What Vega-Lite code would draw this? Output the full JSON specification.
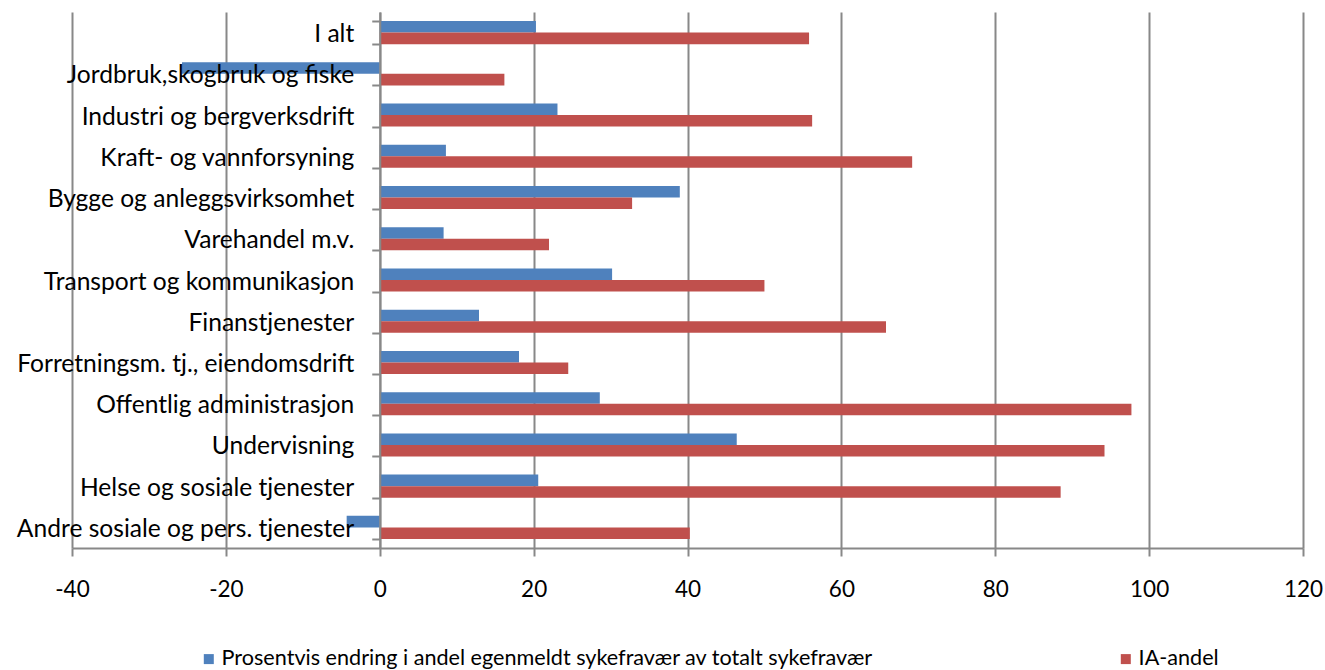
{
  "$schema": "https://vega.github.io/schema/vega-lite/v6.json",
  "width": 1231,
  "height": 536,
  "autosize": {"type": "none"},
  "padding": {"left": 72, "top": 12, "right": 22, "bottom": 122},
  "background": "white",
  "config": {"view": {"stroke": null}, "font": "Lato"},
  "data": {
    "values": [
      {"bransje": "I alt", "serie": "Prosentvis endring i andel egenmeldt sykefravær av totalt sykefravær", "verdi": 20.3},
      {"bransje": "I alt", "serie": "IA-andel", "verdi": 55.8},
      {"bransje": "Jordbruk,skogbruk og fiske", "serie": "Prosentvis endring i andel egenmeldt sykefravær av totalt sykefravær", "verdi": -25.7},
      {"bransje": "Jordbruk,skogbruk og fiske", "serie": "IA-andel", "verdi": 16.2},
      {"bransje": "Industri og bergverksdrift", "serie": "Prosentvis endring i andel egenmeldt sykefravær av totalt sykefravær", "verdi": 23.1},
      {"bransje": "Industri og bergverksdrift", "serie": "IA-andel", "verdi": 56.2},
      {"bransje": "Kraft- og vannforsyning", "serie": "Prosentvis endring i andel egenmeldt sykefravær av totalt sykefravær", "verdi": 8.6},
      {"bransje": "Kraft- og vannforsyning", "serie": "IA-andel", "verdi": 69.2},
      {"bransje": "Bygge og anleggsvirksomhet", "serie": "Prosentvis endring i andel egenmeldt sykefravær av totalt sykefravær", "verdi": 39.0},
      {"bransje": "Bygge og anleggsvirksomhet", "serie": "IA-andel", "verdi": 32.8},
      {"bransje": "Varehandel m.v.", "serie": "Prosentvis endring i andel egenmeldt sykefravær av totalt sykefravær", "verdi": 8.3},
      {"bransje": "Varehandel m.v.", "serie": "IA-andel", "verdi": 22.0},
      {"bransje": "Transport og kommunikasjon", "serie": "Prosentvis endring i andel egenmeldt sykefravær av totalt sykefravær", "verdi": 30.2},
      {"bransje": "Transport og kommunikasjon", "serie": "IA-andel", "verdi": 50.0},
      {"bransje": "Finanstjenester", "serie": "Prosentvis endring i andel egenmeldt sykefravær av totalt sykefravær", "verdi": 12.9},
      {"bransje": "Finanstjenester", "serie": "IA-andel", "verdi": 65.8},
      {"bransje": "Forretningsm. tj., eiendomsdrift", "serie": "Prosentvis endring i andel egenmeldt sykefravær av totalt sykefravær", "verdi": 18.1},
      {"bransje": "Forretningsm. tj., eiendomsdrift", "serie": "IA-andel", "verdi": 24.5},
      {"bransje": "Offentlig administrasjon", "serie": "Prosentvis endring i andel egenmeldt sykefravær av totalt sykefravær", "verdi": 28.6},
      {"bransje": "Offentlig administrasjon", "serie": "IA-andel", "verdi": 97.7},
      {"bransje": "Undervisning", "serie": "Prosentvis endring i andel egenmeldt sykefravær av totalt sykefravær", "verdi": 46.4},
      {"bransje": "Undervisning", "serie": "IA-andel", "verdi": 94.2},
      {"bransje": "Helse og sosiale tjenester", "serie": "Prosentvis endring i andel egenmeldt sykefravær av totalt sykefravær", "verdi": 20.6},
      {"bransje": "Helse og sosiale tjenester", "serie": "IA-andel", "verdi": 88.5},
      {"bransje": "Andre sosiale og pers. tjenester", "serie": "Prosentvis endring i andel egenmeldt sykefravær av totalt sykefravær", "verdi": -4.3},
      {"bransje": "Andre sosiale og pers. tjenester", "serie": "IA-andel", "verdi": 40.3}
    ]
  },
  "mark": {"type": "bar"},
  "encoding": {
    "y": {
      "field": "bransje",
      "type": "nominal",
      "sort": null,
      "scale": {"paddingInner": 0.44, "paddingOuter": 0.22},
      "axis": {
        "title": null,
        "offset": -307.75,
        "domainColor": "#888888",
        "domainWidth": 2,
        "tickColor": "#888888",
        "tickWidth": 2,
        "tickSize": 8,
        "tickBand": "extent",
        "labelFontSize": 24.6,
        "labelColor": "black",
        "labelPadding": 18,
        "labelOffset": 2,
        "labelLimit": 500,
        "labelOverlap": false,
        "zindex": 1,
        "grid": false
      }
    },
    "yOffset": {
      "field": "serie",
      "type": "nominal",
      "sort": ["Prosentvis endring i andel egenmeldt sykefravær av totalt sykefravær", "IA-andel"]
    },
    "x": {
      "field": "verdi",
      "type": "quantitative",
      "scale": {"domain": [-40, 120], "nice": false, "zero": false},
      "axis": {
        "title": null,
        "values": [-40, -20, 0, 20, 40, 60, 80, 100, 120],
        "labelExpr": "'' + datum.value",
        "labelFlush": false,
        "labelOverlap": false,
        "grid": true,
        "gridColor": "#888888",
        "gridWidth": 2,
        "domainColor": "#888888",
        "domainWidth": 2,
        "tickColor": "#888888",
        "tickWidth": 2,
        "tickSize": 8,
        "labelFontSize": 22.5,
        "labelColor": "black",
        "labelPadding": 22
      }
    },
    "color": {
      "field": "serie",
      "type": "nominal",
      "scale": {
        "domain": ["Prosentvis endring i andel egenmeldt sykefravær av totalt sykefravær", "IA-andel"],
        "range": ["#4F81BD", "#C0504D"]
      },
      "legend": {
        "title": null,
        "orient": "none",
        "legendX": 126,
        "legendY": 636,
        "direction": "horizontal",
        "columns": 2,
        "columnPadding": 241,
        "symbolType": "square",
        "symbolSize": 100,
        "symbolStrokeWidth": 0,
        "labelFontSize": 21.6,
        "labelColor": "black",
        "labelOffset": 2,
        "labelLimit": 900
      }
    }
  }
}
